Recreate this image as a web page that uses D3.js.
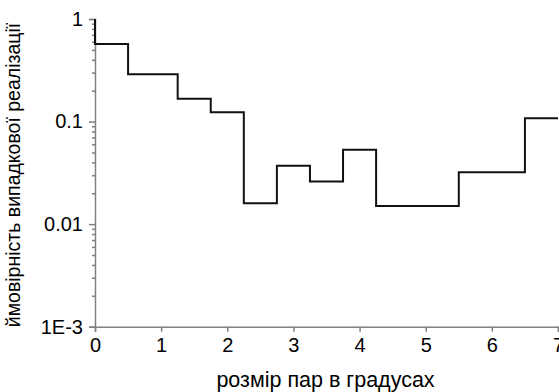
<!DOCTYPE html>
<meta charset="utf-8">
<script src="https://d3js.org/d3.v7.min.js"></script>
<style>
  body { margin: 0; background: #fff; }
  text { font-family: "Liberation Sans", Arial, sans-serif; }
</style>
<div id="my_dataviz"></div>
<script>

// bin edges (degrees) and probability for each bin
var binEdges = [0, 0.5, 1.25, 1.75, 2.25, 2.75, 3.25, 3.75, 4.25, 5.5, 6.5, 7];
var binProbs = [0.57, 0.29, 0.167, 0.123, 0.016, 0.037, 0.026, 0.053, 0.015, 0.032, 0.108];
var startProb = 1;
var xTicks = [0, 1, 2, 3, 4, 5, 6, 7];
var yTicks = [1, 0.1, 0.01, 0.001];
var yTickLabels = ["1", "0.1", "0.01", "1E-3"];

var W = 559, H = 392;
var margin = {top: 19, right: 1, bottom: 65, left: 95};
var width = W - margin.left - margin.right,
    height = 326.7 - margin.top;

var svg = d3.select("#my_dataviz")
  .append("svg")
    .attr("width", W)
    .attr("height", H)
  .append("g")
    .attr("transform", "translate(" + margin.left + "," + margin.top + ")");

var x = d3.scaleLinear().domain([0, 7]).range([0, width]);
var y = d3.scaleLog().domain([0.001, 1]).range([height, 0]);

// minor log ticks
var minor = [];
[0.001, 0.01, 0.1].forEach(function(d) {
  for (var k = 2; k <= 9; k++) minor.push(d * k);
});

svg.append("g")
  .attr("class", "minor")
  .call(d3.axisLeft(y).tickValues(minor).tickSize(3).tickFormat(""))
  .call(function(g) { g.select(".domain").remove(); });

var yAxis = svg.append("g")
  .call(d3.axisLeft(y).tickValues(yTicks).tickSize(6).tickPadding(6)
    .tickFormat(function(d, i) { return yTickLabels[i]; }));

var xAxis = svg.append("g")
  .attr("transform", "translate(0," + height + ")")
  .call(d3.axisBottom(x).tickValues(xTicks).tickSize(5).tickPadding(6).tickFormat(d3.format("d")));

svg.selectAll(".domain, .tick line").attr("stroke", "#808080").attr("stroke-width", 1.5);
svg.selectAll(".tick text").attr("fill", "#000").style("font-size", "20px")
  .style("font-family", "'Liberation Sans', Arial, sans-serif");

// step line
var pts = [[0, startProb]];
binProbs.forEach(function(p, i) { pts.push([binEdges[i], p]); });
pts.push([binEdges[binEdges.length - 1], binProbs[binProbs.length - 1]]);

var line = d3.line()
  .x(function(d) { return x(d[0]); })
  .y(function(d) { return y(d[1]); })
  .curve(d3.curveStepAfter);

svg.append("path")
  .datum(pts)
  .attr("fill", "none")
  .attr("stroke", "#111")
  .attr("stroke-width", 2)
  .attr("d", line);

// axis titles
svg.append("text")
  .attr("x", width / 2 - 1)
  .attr("y", height + 60)
  .attr("text-anchor", "middle")
  .style("font-size", "21.5px")
  .text("розмір пар в градусах");

svg.append("text")
  .attr("transform", "rotate(-90)")
  .attr("x", -156)
  .attr("y", -75)
  .attr("text-anchor", "middle")
  .style("font-size", "19.5px")
  .text("ймовірність випадкової реалізації");

</script>
